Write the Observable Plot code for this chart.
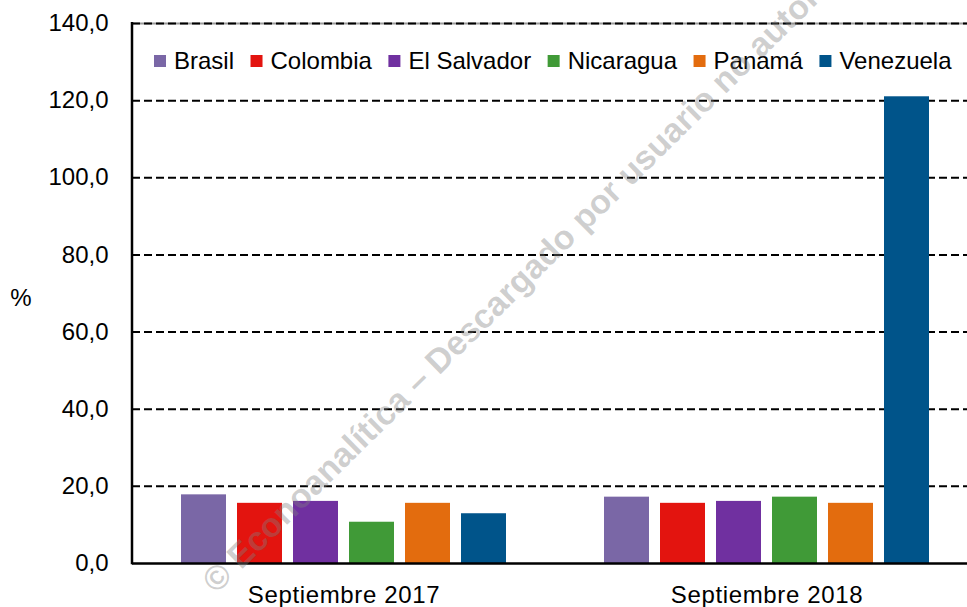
<!DOCTYPE html>
<html>
<head>
<meta charset="utf-8">
<script src="https://cdn.jsdelivr.net/npm/d3@7"></script>
<script src="https://cdn.jsdelivr.net/npm/@observablehq/plot@0.6"></script>
<style>
  html, body { margin: 0; padding: 0; background: #fff; overflow: hidden; }
  #chart { width: 967px; height: 607px; overflow: hidden; }
  #chart svg { max-width: none !important; height: 607px !important; }
</style>
</head>
<body>
<div id="chart"></div>
<script>
const categories = ["Septiembre 2017", "Septiembre 2018"];
const countries = ["Brasil", "Colombia", "El Salvador", "Nicaragua", "Panamá", "Venezuela"];
const colors = ["#7A67A6", "#E3140F", "#7030A0", "#409A37", "#E36C0E", "#00548A"];
const values2017 = [17.8, 15.6, 16.1, 10.7, 15.6, 12.9];
const values2018 = [17.2, 15.6, 16.1, 17.2, 15.6, 121.0];
const yTicks = [0, 20, 40, 60, 80, 100, 120, 140];
const yLabel = "%";
const watermark = "© Econoanalítica – Descargado por usuario no autorizado";

const series = [values2017, values2018];
const data = categories.flatMap((c, i) =>
  countries.map((k, j) => ({cat: c, country: k, value: series[i][j]})));

const fmt = d => d.toFixed(1).replace(".", ",");
const FONT = "'Liberation Sans', Arial, sans-serif";

const plot = Plot.plot({
  width: 978,
  height: 607,
  marginLeft: 132,
  marginRight: 0,
  marginTop: 23,
  marginBottom: 44,
  style: {fontFamily: FONT, fontSize: "24px", color: "#000", background: "#fff", maxWidth: "none"},
  fx: {domain: categories, padding: 0},
  x: {domain: countries, paddingInner: 0.2, paddingOuter: 0.85, axis: null},
  y: {domain: [0, 140]},
  color: {domain: countries, range: colors},
  marks: [
    Plot.axisY(yTicks, {tickSize: 0, tickPadding: 24, tickFormat: fmt, fontSize: 24, label: null}),
    Plot.axisFx({anchor: "bottom", tickSize: 0, tickPadding: 22, fontSize: 24, label: null}),
    Plot.ruleY([140], {stroke: "#9a9a9a", strokeWidth: 2}),
    Plot.ruleY(yTicks.filter(d => d > 0), {stroke: "#000", strokeWidth: 2, strokeDasharray: "8,4"}),
    Plot.barY(data, {fx: "cat", x: "country", y: "value", fill: "country"}),
    Plot.ruleY([0], {stroke: "#000", strokeWidth: 2.5})
  ]
});

plot.style.maxWidth = "none";
document.getElementById("chart").appendChild(plot);

const svg = d3.select(plot);
svg.selectAll('[aria-label="fx-axis tick label"] text').attr("letter-spacing", "0.65px");
const ys = plot.scale("y");
const x0 = 132;
const yTop = ys.apply(140), yBot = ys.apply(0);

// axis line (left)
svg.append("line")
  .attr("x1", x0).attr("x2", x0).attr("y1", yTop - 1).attr("y2", yBot + 1.2)
  .attr("stroke", "#000").attr("stroke-width", 2.5);

// y-axis label
svg.append("text")
  .attr("x", 21).attr("y", (yTop + yBot) / 2 + 5)
  .attr("text-anchor", "middle").attr("dy", "0.35em")
  .attr("font-size", 24).attr("fill", "#000")
  .text(yLabel);

// legend inside plot
const lg = svg.append("g").attr("font-size", 24).attr("fill", "#000").attr("text-anchor", "start");
let lx = 154;
const ly = 61;
countries.forEach((c, i) => {
  lg.append("rect").attr("x", lx).attr("y", ly - 6).attr("width", 12).attr("height", 12).attr("fill", colors[i]);
  const t = lg.append("text").attr("x", lx + 20).attr("y", ly).attr("dy", "0.35em").attr("text-anchor", "start").text(c);
  const w = t.node().getComputedTextLength();
  lx += 20 + w + 16.5;
});

// watermark
svg.append("text")
  .attr("transform", "translate(208,586) rotate(-44.5)")
  .attr("dy", "0.35em")
  .attr("text-anchor", "start")
  .attr("font-size", 34).attr("font-weight", "bold")
  .attr("fill", "#808080").attr("fill-opacity", 0.38)
  .text(watermark);
</script>
</body>
</html>
